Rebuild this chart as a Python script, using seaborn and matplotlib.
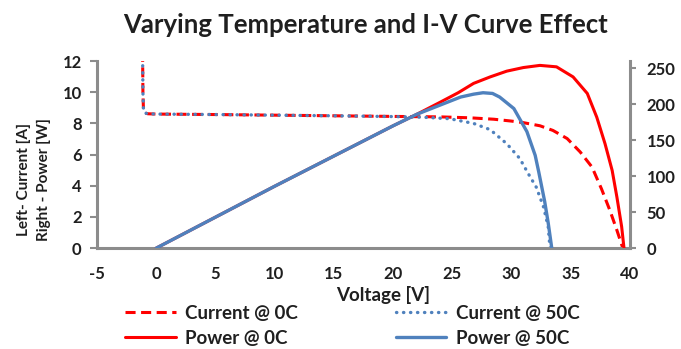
import matplotlib
matplotlib.use("Agg")
import matplotlib.pyplot as plt
import seaborn as sns

# ---- data ----
v_cur0 = [-1.15, -1.12, -1.08, -1.0, -0.7, 0, 5, 10, 15, 20, 24, 26.5, 28.5, 30, 31,
          32.4, 33.5, 34.7, 35.8, 36.8, 37.6, 38.3, 38.9, 39.4]
i_cur0 = [12.6, 10.0, 9.0, 8.68, 8.62, 8.6, 8.57, 8.53, 8.49, 8.45, 8.42, 8.36, 8.27, 8.15, 8.05,
          7.85, 7.55, 7.03, 6.17, 5.2, 3.8, 2.44, 1.15, 0.0]

v_cur50 = [-1.15, -1.12, -1.08, -1.0, -0.7, 0, 5, 10, 15, 20, 22.5, 24.8, 26.8, 28.2,
           29.6, 30.7, 31.4, 32.1, 32.7, 33.1, 33.25]
i_cur50 = [12.6, 10.0, 9.0, 8.68, 8.62, 8.6, 8.57, 8.53, 8.49, 8.44, 8.4, 8.3, 8.0, 7.6,
           6.7, 5.75, 4.8, 3.9, 2.65, 1.37, 0.0]

v_pow0 = [0, 5, 10, 15, 20, 22, 24, 25.5, 26.8, 28.2, 29.6, 31.0, 32.4, 33.8, 35.2,
          36.4, 37.2, 37.9, 38.5, 38.9, 39.3, 39.5]
p_pow0 = [0, 43, 86, 128, 170, 186, 203, 216, 229, 238, 246, 251, 254, 252, 238,
          215, 182, 145, 108, 71, 30, 0]

v_pow50 = [0, 5, 10, 15, 20, 22, 24, 25.7, 26.8, 27.6, 28.4, 29.0, 30.2, 31.3, 32.0,
           32.3, 32.8, 33.1, 33.4]
p_pow50 = [0, 43, 86, 128, 170, 186, 199, 210, 214, 216, 215, 210, 194, 162, 129,
           106, 65, 35, 0]

x_ticks = [-5, 0, 5, 10, 15, 20, 25, 30, 35, 40]
left_ticks = [0, 2, 4, 6, 8, 10, 12]
right_ticks = [0, 50, 100, 150, 200, 250]

title = "Varying Temperature and I-V Curve Effect"
labels = ["Current @ 0C", "Power @ 0C", "Current @ 50C", "Power @ 50C"]

RED = "#FF0000"
BLUE = "#4F81BD"
GRAY = "#8C8C8C"
TXT = "#1F1F1F"

sns.set_style("white")
plt.rcParams["font.family"] = ["Lato", "DejaVu Sans"]
plt.rcParams["axes.unicode_minus"] = False

fig = plt.figure(figsize=(6.81, 3.49), dpi=100)
ax = fig.add_axes([0.1424, 0.289, 0.7826, 0.536])
ax2 = ax.twinx()

sns.lineplot(x=v_cur0, y=i_cur0, ax=ax, color=RED, lw=2.2, sort=False,
             estimator=None, linestyle=(0, (3.3, 1.8)), label=labels[0], legend=False)
sns.lineplot(x=v_cur50, y=i_cur50, ax=ax, color=BLUE, lw=2.4, sort=False,
             estimator=None, linestyle=(0, (0.1, 2.0)), label=labels[2], legend=False)
ax.lines[1].set_dash_capstyle("round")

sns.lineplot(x=v_pow0, y=p_pow0, ax=ax2, color=RED, lw=2.2, sort=False,
             estimator=None, label=labels[1], legend=False)
sns.lineplot(x=v_pow50, y=p_pow50, ax=ax2, color=BLUE, lw=2.4, sort=False,
             estimator=None, label=labels[3], legend=False)
for ln in ax.lines + ax2.lines:
    ln.set_solid_joinstyle("round")

ax.set_xlim(-5, 40)
ax.set_ylim(0, 12)
ax2.set_ylim(0, 260)
ax.set_xticks(x_ticks)
ax.set_yticks(left_ticks)
ax2.set_yticks(right_ticks)

for a in (ax, ax2):
    for s in a.spines.values():
        s.set_visible(False)
ax.spines["left"].set_visible(True)
ax.spines["bottom"].set_visible(True)
ax2.spines["right"].set_visible(True)
for s in (ax.spines["left"], ax.spines["bottom"], ax2.spines["right"]):
    s.set_color(GRAY)
    s.set_linewidth(2.2)

ax.tick_params(axis="y", left=True, length=5, width=1.5, color=GRAY, pad=6,
               labelsize=12, labelcolor=TXT)
ax.tick_params(axis="x", bottom=False, pad=9, labelsize=12, labelcolor=TXT)
ax2.tick_params(axis="y", right=True, length=4, width=1.5, color=GRAY, pad=8,
                labelsize=12, labelcolor=TXT)
for lab in ax.get_xticklabels() + ax.get_yticklabels() + ax2.get_yticklabels():
    lab.set_fontweight("bold")

ax.set_xlabel("")
ax.set_ylabel("")
ax2.set_ylabel("")
fig.text(383 / 681, 1 - 295 / 349, "Voltage [V]", ha="center", va="center",
         fontsize=13.5, fontweight="bold", color=TXT)
fig.text(34 / 681, 1 - 180 / 349, "Left- Current [A]\nRight - Power [W]", ha="center",
         va="center", rotation=90, fontsize=11, fontweight="bold", color=TXT,
         linespacing=1.6)

fig.text(0.537, 0.928, title, ha="center", va="center", fontsize=18.5,
         fontweight="bold", color=TXT)

handles = [ax.lines[0], ax2.lines[0], ax.lines[1], ax2.lines[1]]
fig.legend(handles, labels, ncol=2, loc="center", bbox_to_anchor=(0.5176, 0.066),
           frameon=False, handlelength=2.7, handletextpad=0.5, borderpad=0.2,
           columnspacing=5.2, labelspacing=0.42, prop={"weight": "bold", "size": 13.5})
for t in fig.legends[0].get_texts():
    t.set_color(TXT)

fig.savefig("out.png", dpi=100)
